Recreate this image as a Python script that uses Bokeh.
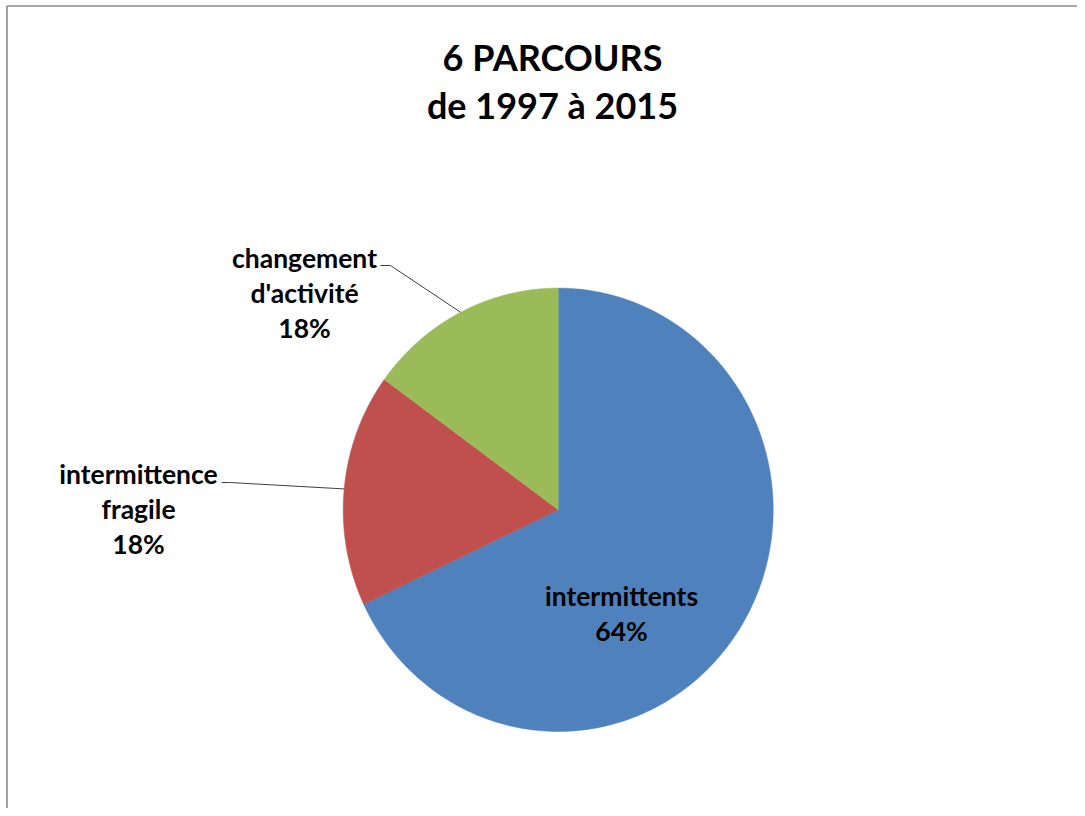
import numpy as np
from bokeh.plotting import figure
from bokeh.models import Range1d
from bokeh.core.properties import value
from bokeh.embed import file_html
from bokeh.resources import INLINE

# ---- data ----
categories = ["intermittents", "intermittence fragile", "changement d'activité"]
shares = [68, 17, 15]               # slice sizes as drawn
pct_labels = ["64%", "18%", "18%"]  # percentages as printed on the chart
label_lines = [["intermittents"], ["intermittence", "fragile"], ["changement", "d'activité"]]
colors = ["#4F81BD", "#C0504D", "#9BBB59"]
title_lines = ["6 PARCOURS", "de 1997 à 2015"]

# ---- layout (canvas pixels) ----
W, H = 1077, 808
CX, CY, RX, RY = 557.7, 509.3, 215.0, 221.7


def dx(px):
    return (px - CX) / RX


def dy(py):
    return (CY - py) / RY


FONT = value("Lato")

p = figure(width=W, height=H, x_range=Range1d(dx(0), dx(W)), y_range=Range1d(dy(H), dy(0)),
           output_backend="svg", toolbar_location=None, min_border=0,
           x_axis_location=None, y_axis_location=None)
p.grid.visible = False
p.outline_line_color = None
p.background_fill_color = "white"
p.border_fill_color = "white"

# chart-area border (only top/left visible in the reference)
p.segment(x0=[dx(6.5), dx(6.5)], y0=[dy(5.5), dy(5.5)], x1=[dx(W + 20), dx(6.5)], y1=[dy(5.5), dy(H + 20)],
          line_color="#8a8a8a", line_width=1.6)

# pie slices, clockwise from 12 o'clock
fr = np.cumsum([0] + shares) / float(sum(shares))
xs, ys = [], []
for i in range(len(shares)):
    t = np.linspace(fr[i], fr[i + 1], 240) * 2 * np.pi
    xs.append([0.0] + list(np.sin(t)) + [0.0])
    ys.append([0.0] + list(np.cos(t)) + [0.0])
p.patches(xs, ys, fill_color=colors, line_color=colors, line_width=0.5)

# mid-angle points of slices
mids = [(fr[i] + fr[i + 1]) / 2 * 2 * np.pi for i in range(len(shares))]

# leader lines for outside labels
leaders = {1: [(229, 482), (221, 482)], 2: [(390, 265), (380, 265)]}
for i, pts in leaders.items():
    lx = [np.sin(mids[i])] + [dx(a) for a, b in pts]
    ly = [np.cos(mids[i])] + [dy(b) for a, b in pts]
    p.line(lx, ly, line_color="#404040", line_width=1)

# data labels (centre x, baselines)
label_pos = [(621, [595, 630]), (138, [473, 508, 543]), (304, [257, 292, 327])]
for i, (cx, bases) in enumerate(label_pos):
    lines = label_lines[i] + [pct_labels[i]]
    p.text(x=[dx(cx)] * len(lines), y=[dy(b) for b in bases], text=lines,
           text_font=FONT, text_font_style="bold", text_font_size="26.5px",
           text_align="center", text_baseline="alphabetic", text_color="black")

# title
p.text(x=[dx(552)] * 2, y=[dy(56), dy(104)], text=title_lines,
       text_font=FONT, text_font_style="bold", text_font_size="36px",
       text_align="center", text_baseline="alphabetic", text_color="black")

open("out.html", "w").write(file_html(p, INLINE))
